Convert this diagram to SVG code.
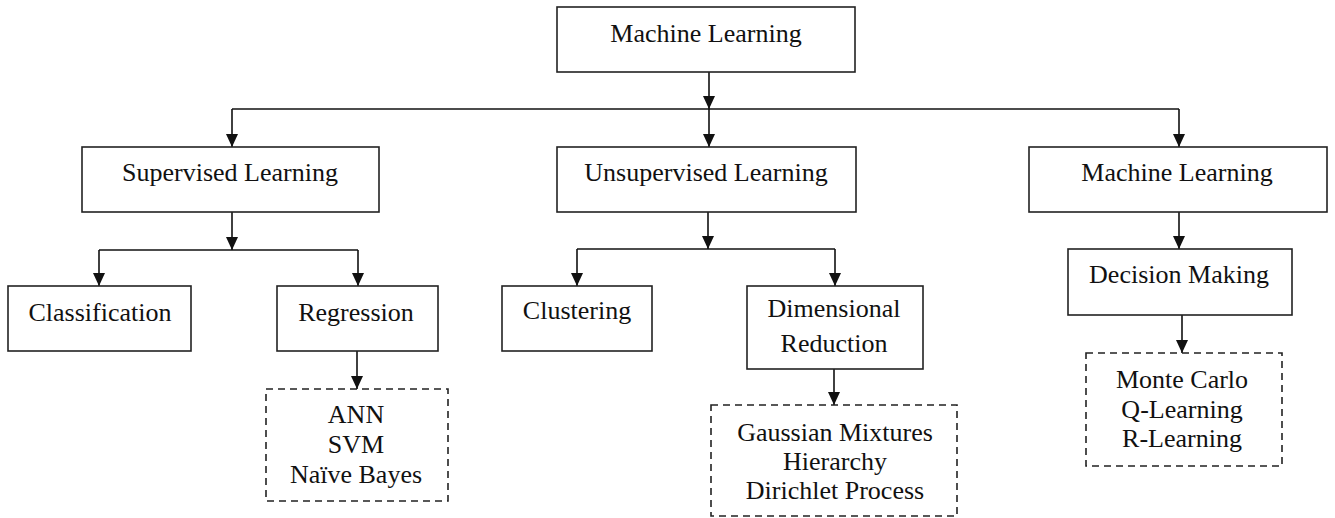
<svg xmlns="http://www.w3.org/2000/svg" width="1335" height="518" viewBox="0 0 1335 518">
<defs>
<marker id="ah" viewBox="0 0 13 12" refX="13" refY="6" markerWidth="13" markerHeight="12" markerUnits="userSpaceOnUse" orient="auto">
<path d="M0,0 L13,6 L0,12 z" fill="#111"/>
</marker>
<style>
.box{fill:#fff;stroke:#222;stroke-width:1.6}
.dash{fill:#fff;stroke:#222;stroke-width:1.6;stroke-dasharray:7,5}
.t{font-family:'Liberation Serif','Times New Roman',serif;font-size:26px;fill:#111;text-anchor:middle}
.c{fill:none;stroke:#111;stroke-width:1.6}
.a{fill:none;stroke:#111;stroke-width:1.6;marker-end:url(#ah)}
</style>
</defs>
<rect width="1335" height="518" fill="#fff"/>
<g id="connectors">
<path class="a" d="M709,72 V109"/>
<path class="c" d="M232,109 H1179"/>
<path class="a" d="M232,109 V147"/>
<path class="a" d="M709,109 V147"/>
<path class="a" d="M1179,109 V147"/>
<path class="a" d="M232,212 V250"/>
<path class="c" d="M99,250 H358"/>
<path class="a" d="M99,250 V286"/>
<path class="a" d="M358,250 V286"/>
<path class="a" d="M708,212 V249"/>
<path class="c" d="M577,249 H835"/>
<path class="a" d="M577,249 V286"/>
<path class="a" d="M835,249 V286"/>
<path class="a" d="M1179,212 V249"/>
<path class="a" d="M1182,315 V353"/>
<path class="a" d="M357,351 V389"/>
<path class="a" d="M834,369 V405"/>
</g>
<g id="ml-root"><rect class="box" x="557" y="7" width="298" height="65"/><text class="t" x="706" y="42">Machine Learning</text></g>
<g id="supervised"><rect class="box" x="82" y="147" width="297" height="65"/><text class="t" x="230" y="181">Supervised Learning</text></g>
<g id="unsupervised"><rect class="box" x="557" y="147" width="299" height="65"/><text class="t" x="706" y="181">Unsupervised Learning</text></g>
<g id="ml-right"><rect class="box" x="1029" y="147" width="298" height="65"/><text class="t" x="1177" y="181">Machine Learning</text></g>
<g id="classification"><rect class="box" x="8" y="286" width="183" height="65"/><text class="t" x="100" y="321">Classification</text></g>
<g id="regression"><rect class="box" x="277" y="286" width="161" height="65"/><text class="t" x="356" y="321">Regression</text></g>
<g id="clustering"><rect class="box" x="502" y="286" width="150" height="65"/><text class="t" x="577" y="319">Clustering</text></g>
<g id="dimred"><rect class="box" x="747" y="286" width="176" height="83"/><text class="t" x="834" y="317">Dimensional</text><text class="t" x="834" y="352">Reduction</text></g>
<g id="decision"><rect class="box" x="1068" y="249" width="224" height="66"/><text class="t" x="1179" y="283">Decision Making</text></g>
<g id="reg-methods"><rect class="dash" x="266" y="389" width="182" height="112"/><text class="t" x="356" y="423">ANN</text><text class="t" x="356" y="453">SVM</text><text class="t" x="356" y="483">Naïve Bayes</text></g>
<g id="dr-methods"><rect class="dash" x="711" y="405" width="246" height="111"/><text class="t" x="835" y="441">Gaussian Mixtures</text><text class="t" x="835" y="470">Hierarchy</text><text class="t" x="835" y="499">Dirichlet Process</text></g>
<g id="rl-methods"><rect class="dash" x="1086" y="353" width="196" height="113"/><text class="t" x="1182" y="388">Monte Carlo</text><text class="t" x="1182" y="418">Q-Learning</text><text class="t" x="1182" y="447">R-Learning</text></g>
</svg>
